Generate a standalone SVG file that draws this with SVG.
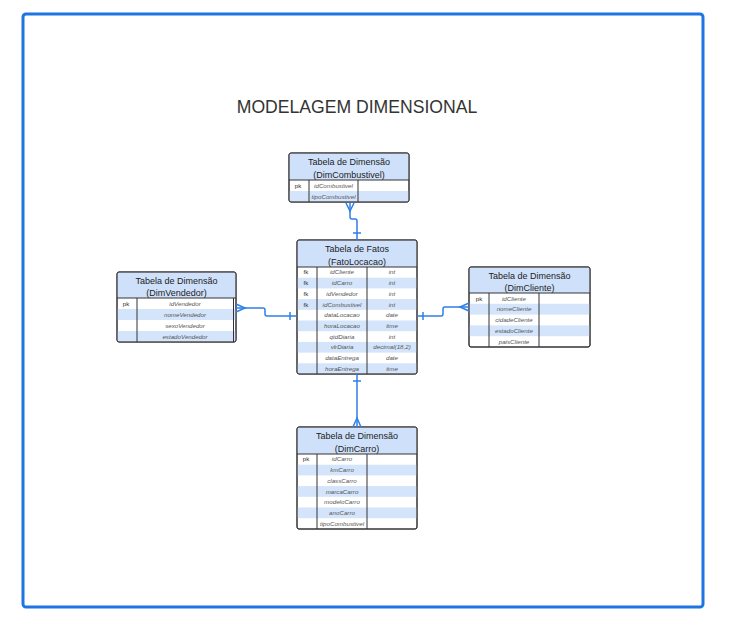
<svg xmlns="http://www.w3.org/2000/svg" width="733" height="628" viewBox="0 0 733 628">
<style>
.frame{fill:#fff;stroke:#1f74e3;stroke-width:3}
.title{font-family:"Liberation Sans",Arial,sans-serif;font-size:17.6px;fill:#333;text-anchor:middle}
.box{fill:#fff;stroke:#333;stroke-width:1}
.hdr{fill:#cfe1fa}
.alt{fill:#d3e4fb}
.ln{stroke:#333;stroke-width:1;fill:none}
.ht{font-family:"Liberation Sans",Arial,sans-serif;font-size:9px;fill:#222;text-anchor:middle}
.rt{font-family:"Liberation Sans",Arial,sans-serif;font-size:6.2px;fill:#555;font-style:italic;text-anchor:middle}
.kt{font-family:"Liberation Sans",Arial,sans-serif;font-size:6.2px;fill:#333;text-anchor:middle}
.c{stroke:#2f7fe6;stroke-width:1.5;fill:none}
</style>
<rect class="frame" x="23" y="14" width="680" height="593" rx="3"/>
<text class="title" x="357" y="113">MODELAGEM DIMENSIONAL</text>

<g id="DimCombustivel">
<rect class="box" x="289" y="153" width="120" height="49" rx="2"/>
<rect class="hdr" x="289.5" y="153.5" width="119" height="26.5"/>
<rect class="alt" x="289.5" y="191" width="119" height="10.5"/>
<rect class="box" x="289" y="153" width="120" height="49" rx="2" fill="none" style="fill:none"/>
<line class="ln" x1="289" y1="180" x2="409" y2="180"/>
<line class="ln" x1="309" y1="180" x2="309" y2="202"/>
<line class="ln" x1="358" y1="180" x2="358" y2="202"/>
<text class="ht" x="349" y="164.5">Tabela de Dimensão</text>
<text class="ht" x="349" y="177.5">(DimCombustivel)</text>
<text class="kt" x="298" y="187.5">pk</text>
<text class="rt" x="333.5" y="187.5">idCombustivel</text>
<text class="rt" x="333.5" y="198.5">tipoCombustivel</text>
</g>

<g id="FatoLocacao">
<rect class="box" x="297" y="240" width="120" height="134" rx="2"/>
<rect class="hdr" x="297.5" y="240.5" width="119" height="26.5"/>
<rect class="alt" x="297.5" y="277.7" width="119" height="10.7"/>
<rect class="alt" x="297.5" y="299.1" width="119" height="10.7"/>
<rect class="alt" x="297.5" y="320.5" width="119" height="10.7"/>
<rect class="alt" x="297.5" y="341.9" width="119" height="10.7"/>
<rect class="alt" x="297.5" y="363.3" width="119" height="10.2"/>
<rect class="box" x="297" y="240" width="120" height="134" rx="2" style="fill:none"/>
<line class="ln" x1="297" y1="267" x2="417" y2="267"/>
<line class="ln" x1="317" y1="267" x2="317" y2="374"/>
<line class="ln" x1="367" y1="267" x2="367" y2="374"/>
<text class="ht" x="357" y="251.5">Tabela de Fatos</text>
<text class="ht" x="357" y="264.5">(FatoLocacao)</text>
<text class="kt" x="306" y="274.4">fk</text>
<text class="kt" x="306" y="285.1">fk</text>
<text class="kt" x="306" y="295.8">fk</text>
<text class="kt" x="306" y="306.5">fk</text>
<text class="rt" x="342" y="274.4">idCliente</text>
<text class="rt" x="342" y="285.1">idCarro</text>
<text class="rt" x="342" y="295.8">idVendedor</text>
<text class="rt" x="342" y="306.5">idCombustivel</text>
<text class="rt" x="342" y="317.2">dataLocacao</text>
<text class="rt" x="342" y="327.9">horaLocacao</text>
<text class="rt" x="342" y="338.6">qtdDiaria</text>
<text class="rt" x="342" y="349.3">vlrDiaria</text>
<text class="rt" x="342" y="360">dataEntrega</text>
<text class="rt" x="342" y="370.7">horaEntrega</text>
<text class="rt" x="392" y="274.4">int</text>
<text class="rt" x="392" y="285.1">int</text>
<text class="rt" x="392" y="295.8">int</text>
<text class="rt" x="392" y="306.5">int</text>
<text class="rt" x="392" y="317.2">date</text>
<text class="rt" x="392" y="327.9">time</text>
<text class="rt" x="392" y="338.6">int</text>
<text class="rt" x="392" y="349.3">decimal(18,2)</text>
<text class="rt" x="392" y="360">date</text>
<text class="rt" x="392" y="370.7">time</text>
</g>

<g id="DimVendedor">
<rect class="box" x="117" y="272" width="119" height="70" rx="2"/>
<rect class="hdr" x="117.5" y="272.5" width="118" height="25.5"/>
<rect class="alt" x="117.5" y="309" width="118" height="11"/>
<rect class="alt" x="117.5" y="331" width="118" height="10.5"/>
<rect class="box" x="117" y="272" width="119" height="70" rx="2" style="fill:none"/>
<line class="ln" x1="117" y1="298" x2="236" y2="298"/>
<line class="ln" x1="137" y1="298" x2="137" y2="342"/>
<line class="ln" x1="233.5" y1="298" x2="233.5" y2="342"/>
<text class="ht" x="176.5" y="283.5">Tabela de Dimensão</text>
<text class="ht" x="176.5" y="296">(DimVendedor)</text>
<text class="kt" x="126" y="305.5">pk</text>
<text class="rt" x="185" y="305.5">idVendedor</text>
<text class="rt" x="185" y="316.5">nomeVendedor</text>
<text class="rt" x="185" y="327.5">sexoVendedor</text>
<text class="rt" x="185" y="338.5">estadoVendedor</text>
</g>

<g id="DimCliente">
<rect class="box" x="469" y="267" width="121" height="80" rx="2"/>
<rect class="hdr" x="469.5" y="267.5" width="120" height="25.5"/>
<rect class="alt" x="469.5" y="303.8" width="120" height="10.8"/>
<rect class="alt" x="469.5" y="325.4" width="120" height="10.8"/>
<rect class="box" x="469" y="267" width="121" height="80" rx="2" style="fill:none"/>
<line class="ln" x1="469" y1="293" x2="590" y2="293"/>
<line class="ln" x1="489" y1="293" x2="489" y2="347"/>
<line class="ln" x1="539" y1="293" x2="539" y2="347"/>
<text class="ht" x="529.5" y="278.5">Tabela de Dimensão</text>
<text class="ht" x="529.5" y="291">(DimCliente)</text>
<text class="kt" x="479" y="300.5">pk</text>
<text class="rt" x="514" y="300.5">idCliente</text>
<text class="rt" x="514" y="311.3">nomeCliente</text>
<text class="rt" x="514" y="322.1">cidadeCliente</text>
<text class="rt" x="514" y="332.9">estadoCliente</text>
<text class="rt" x="514" y="343.7">paisCliente</text>
</g>

<g id="DimCarro">
<rect class="box" x="297" y="427" width="120" height="102" rx="2"/>
<rect class="hdr" x="297.5" y="427.5" width="119" height="26.5"/>
<rect class="alt" x="297.5" y="464.7" width="119" height="10.7"/>
<rect class="alt" x="297.5" y="486.1" width="119" height="10.7"/>
<rect class="alt" x="297.5" y="507.5" width="119" height="10.7"/>
<rect class="box" x="297" y="427" width="120" height="102" rx="2" style="fill:none"/>
<line class="ln" x1="297" y1="454" x2="417" y2="454"/>
<line class="ln" x1="317" y1="454" x2="317" y2="529"/>
<line class="ln" x1="367" y1="454" x2="367" y2="529"/>
<text class="ht" x="357" y="438.5">Tabela de Dimensão</text>
<text class="ht" x="357" y="451.5">(DimCarro)</text>
<text class="kt" x="306" y="461.4">pk</text>
<text class="rt" x="342" y="461.4">idCarro</text>
<text class="rt" x="342" y="472.1">kmCarro</text>
<text class="rt" x="342" y="482.8">classCarro</text>
<text class="rt" x="342" y="493.5">marcaCarro</text>
<text class="rt" x="342" y="504.2">modeloCarro</text>
<text class="rt" x="342" y="514.9">anoCarro</text>
<text class="rt" x="342" y="525.6">tipoCombustivel</text>
</g>

<g id="connectors">
<path class="c" d="M350,203 V217 Q350,219 352,219 H355 Q357,219 357,221 V240"/>
<path class="c" d="M346,203 L350,211 L354,203"/>
<path class="c" d="M353,233 H361"/>
<path class="c" d="M236,308 H263 Q265,308 265,310 V314 Q265,316 267,316 H297"/>
<path class="c" d="M236,304 L245,308 L236,312"/>
<path class="c" d="M290,312 V320"/>
<path class="c" d="M417,316 H441 Q443,316 443,314 V309 Q443,307 445,307 H469"/>
<path class="c" d="M469,303 L460,307 L469,311"/>
<path class="c" d="M423,312 V320"/>
<path class="c" d="M357,374 V427"/>
<path class="c" d="M353,381 H361"/>
<path class="c" d="M353,427 L357,418 L361,427"/>
</g>
</svg>
